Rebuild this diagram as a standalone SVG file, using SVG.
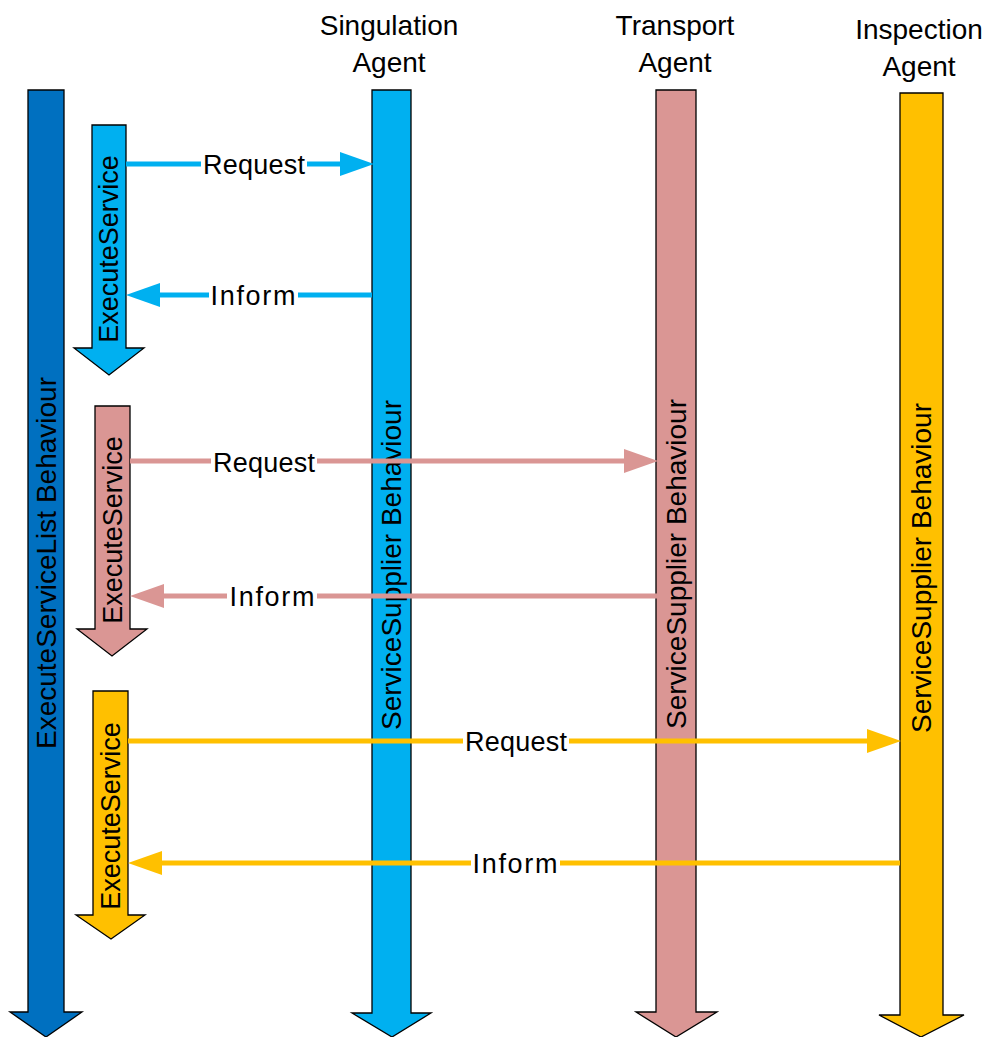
<svg xmlns="http://www.w3.org/2000/svg" width="987" height="1037" viewBox="0 0 987 1037">
<style>
text{font-family:"Liberation Sans",Arial,sans-serif;font-size:27px;fill:#000}
.h{font-size:28px}
.v{font-size:28px}
.bar{stroke:#000;stroke-width:1.3;stroke-linejoin:miter}
.c{fill:none;stroke-width:5}
.lbl{fill:#fff}
.blue{stroke:#00B0F0}
.pink{stroke:#DA9694}
.yel{stroke:#FFC000}
</style>
<defs>
<marker id="hb" markerUnits="userSpaceOnUse" markerWidth="36" markerHeight="26" refX="0" refY="13" orient="auto" overflow="visible"><path d="M0,1 L34,13 L0,25 Z" fill="#00B0F0"/></marker>
<marker id="hp" markerUnits="userSpaceOnUse" markerWidth="36" markerHeight="26" refX="0" refY="13" orient="auto" overflow="visible"><path d="M0,1 L34,13 L0,25 Z" fill="#DA9694"/></marker>
<marker id="hy" markerUnits="userSpaceOnUse" markerWidth="36" markerHeight="26" refX="0" refY="13" orient="auto" overflow="visible"><path d="M0,1 L34,13 L0,25 Z" fill="#FFC000"/></marker>
</defs>
<rect width="987" height="1037" fill="#fff"/>
<g id="header-singulation"><text class="h" x="389" y="35" text-anchor="middle">Singulation</text><text class="h" x="389" y="72" text-anchor="middle">Agent</text></g>
<g id="header-transport"><text class="h" x="675" y="35" text-anchor="middle">Transport</text><text class="h" x="675" y="72" text-anchor="middle">Agent</text></g>
<g id="header-inspection"><text class="h" x="919" y="39" text-anchor="middle">Inspection</text><text class="h" x="919" y="76" text-anchor="middle">Agent</text></g>

<g id="executeservicelist">
<path class="bar" fill="#0070C0" d="M28,90 H64 V1012 H82 L46,1037 L10,1012 H28 Z"/>
<text class="v" transform="translate(46,563) rotate(-90)" x="0" y="10" text-anchor="middle">ExecuteServiceList Behaviour</text>
</g>
<g id="singulation-supplier">
<path class="bar" fill="#00B0F0" d="M372,90 H411 V1013 H431 L392,1037 L352,1013 H372 Z"/>
<text class="v" transform="translate(391,565) rotate(-90)" x="0" y="10" text-anchor="middle">ServiceSupplier Behaviour</text>
</g>
<g id="transport-supplier">
<path class="bar" fill="#DA9694" d="M656,90 H696 V1012 H717 L676,1037 L636,1012 H656 Z"/>
<text class="v" transform="translate(676,564) rotate(-90)" x="0" y="10" text-anchor="middle">ServiceSupplier Behaviour</text>
</g>
<g id="inspection-supplier">
<path class="bar" fill="#FFC000" d="M900,93 H943 V1015 H964 L921,1037 L879,1015 H900 Z"/>
<text class="v" transform="translate(921,568) rotate(-90)" x="0" y="10" text-anchor="middle">ServiceSupplier Behaviour</text>
</g>
<g id="exec-blue">
<path class="bar" fill="#00B0F0" d="M92,125 H126 V348 H144 L109,375 L74,348 H92 Z"/>
<text transform="translate(108,249) rotate(-90)" x="0" y="10" text-anchor="middle">ExecuteService</text>
</g>
<g id="exec-pink">
<path class="bar" fill="#DA9694" d="M95,406 H130 V629 H147 L112,656 L77,629 H95 Z"/>
<text transform="translate(112,530) rotate(-90)" x="0" y="10" text-anchor="middle">ExecuteService</text>
</g>
<g id="exec-yellow">
<path class="bar" fill="#FFC000" d="M93,691 H128 V915 H145 L111,939 L76,915 H93 Z"/>
<text transform="translate(110,816) rotate(-90)" x="0" y="10" text-anchor="middle">ExecuteService</text>
</g>

<g id="connectors">
<path class="c blue" d="M126,164 H340" marker-end="url(#hb)"/>
<path class="c blue" d="M372,295 H160" marker-end="url(#hb)"/>
<path class="c pink" d="M130,461 H624" marker-end="url(#hp)"/>
<path class="c pink" d="M657,596 H164" marker-end="url(#hp)"/>
<path class="c yel" d="M128,741 H867" marker-end="url(#hy)"/>
<path class="c yel" d="M900,863 H162" marker-end="url(#hy)"/>
<rect class="lbl" x="201" y="152" width="106" height="24"/><text x="254" y="174" text-anchor="middle" textLength="102" lengthAdjust="spacing">Request</text>
<rect class="lbl" x="209" y="283" width="89" height="24"/><text x="253" y="305" text-anchor="middle" textLength="85" lengthAdjust="spacing">Inform</text>
<rect class="lbl" x="211" y="449" width="106" height="24"/><text x="264" y="472" text-anchor="middle" textLength="102" lengthAdjust="spacing">Request</text>
<rect class="lbl" x="227" y="584" width="90" height="24"/><text x="272" y="606" text-anchor="middle" textLength="85" lengthAdjust="spacing">Inform</text>
<rect class="lbl" x="463" y="729" width="106" height="24"/><text x="516" y="751" text-anchor="middle" textLength="102" lengthAdjust="spacing">Request</text>
<rect class="lbl" x="471" y="851" width="89" height="24"/><text x="515" y="873" text-anchor="middle" textLength="85" lengthAdjust="spacing">Inform</text>
</g>
</svg>
